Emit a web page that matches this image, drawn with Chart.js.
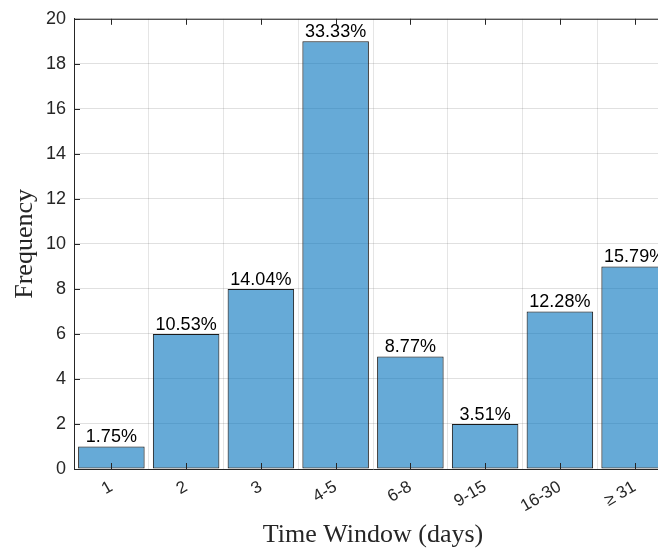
<!DOCTYPE html>
<html>
<head>
<meta charset="utf-8">
<script src="https://cdn.jsdelivr.net/npm/chart.js@4"></script>
<style>
  body { margin: 0; overflow: hidden; background: #fff; }
</style>
</head>
<body>
<canvas id="freq-chart" width="680" height="548"></canvas>
<script>
// data
const categories = ['1', '2', '3', '4-5', '6-8', '9-15', '16-30', '\u2265 31'];
const frequency = [1, 6, 8, 19, 5, 2, 7, 9];
const percentLabels = ['1.75%', '10.53%', '14.04%', '33.33%', '8.77%', '3.51%', '12.28%', '15.79%'];
const yMin = 0, yMax = 20, yStep = 2;

const axisColor = '#262626';
const sansFont = '"Liberation Sans", Arial, Helvetica, sans-serif';
const serifFont = '"Liberation Serif", "Times New Roman", serif';

// matlab style: labels over bars, inward ticks, top box line
const matlabBits = {
  id: 'matlabBits',
  afterDatasetsDraw(chart) {
    let ctx = chart.ctx;
    let area = chart.chartArea;
    let xs = chart.scales.x, ys = chart.scales.y;
    ctx.save();

    ctx.fillStyle = '#000';
    ctx.font = '18px ' + sansFont;
    ctx.textAlign = 'center';
    ctx.textBaseline = 'alphabetic';
    chart.getDatasetMeta(0).data.forEach((bar, i) => {
      ctx.fillText(percentLabels[i], bar.x, bar.y - 4);
    });

    ctx.strokeStyle = axisColor;
    ctx.lineWidth = 1;
    ctx.beginPath();
    ctx.moveTo(area.left, area.top + 0.5);
    ctx.lineTo(area.right, area.top + 0.5);
    categories.forEach((c, i) => {
      let x = Math.round(xs.getPixelForValue(i)) + 0.5;
      ctx.moveTo(x, area.bottom);
      ctx.lineTo(x, area.bottom - 6);
      ctx.moveTo(x, area.top);
      ctx.lineTo(x, area.top + 6);
    });
    for (let v = yMin; v <= yMax; v += yStep) {
      let y = Math.round(ys.getPixelForValue(v)) + 0.5;
      ctx.moveTo(area.left, y);
      ctx.lineTo(area.left + 6, y);
    }
    ctx.stroke();
    ctx.restore();
  }
};

let chart_freq = new Chart(document.getElementById('freq-chart'), {
  type: 'bar',
  data: {
    labels: categories,
    datasets: [{
      label: 'Frequency',
      data: frequency,
      backgroundColor: 'rgba(0,114,189,0.6)',
      borderColor: '#1a1a1a',
      borderWidth: 1,
      borderSkipped: false,
      barPercentage: 0.89,
      categoryPercentage: 1.0
    }]
  },
  options: {
    responsive: false,
    animation: false,
    layout: { padding: { top: 17, right: 8, left: 0, bottom: 0 } },
    plugins: {
      legend: { display: false },
      tooltip: { enabled: false }
    },
    scales: {
      x: {
        afterFit: (s) => { s.height = 79; },
        grid: { color: 'rgba(0,0,0,0.1)', tickLength: 0, drawTicks: false },
        border: { color: axisColor, width: 1 },
        ticks: {
          color: axisColor,
          font: { family: sansFont, size: 17 },
          minRotation: 30,
          maxRotation: 30,
          padding: 8
        },
        title: {
          display: true,
          text: 'Time Window (days)',
          color: axisColor,
          font: { family: serifFont, size: 26, lineHeight: 1.0 },
          padding: { top: 0, bottom: 0 }
        }
      },
      y: {
        min: yMin,
        max: yMax,
        afterFit: (s) => { s.width = 74; },
        grid: { color: 'rgba(0,0,0,0.12)', tickLength: 0, drawTicks: false },
        border: { color: axisColor, width: 1 },
        ticks: {
          stepSize: yStep,
          color: axisColor,
          font: { family: sansFont, size: 18 },
          padding: 8
        },
        title: {
          display: true,
          text: 'Frequency',
          color: axisColor,
          font: { family: serifFont, size: 26, lineHeight: 1.0 },
          padding: { top: 12, bottom: 0 }
        }
      }
    }
  },
  plugins: [matlabBits]
});
</script>
</body>
</html>
